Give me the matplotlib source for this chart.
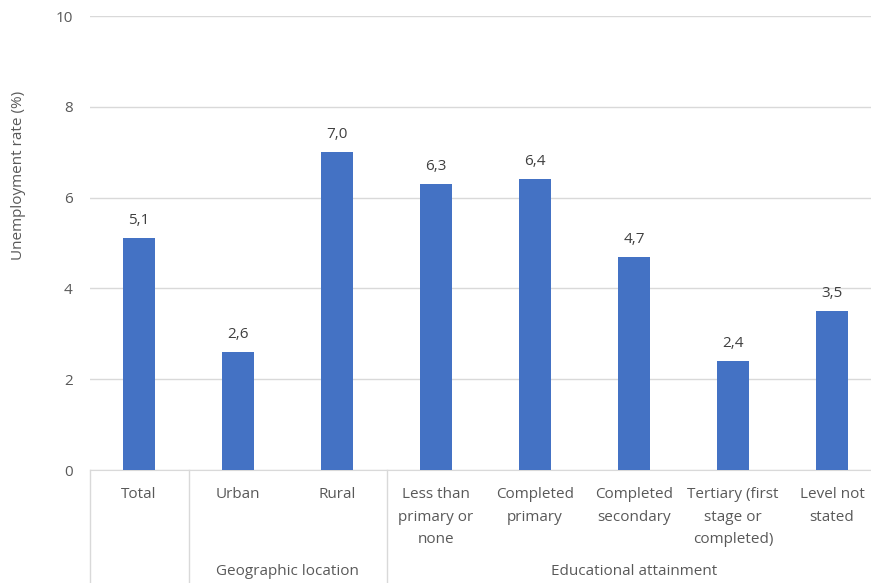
import matplotlib
matplotlib.use('Agg')
import matplotlib.pyplot as plt

categories = ['Total', 'Urban', 'Rural', 'Less than\nprimary or\nnone', 'Completed\nprimary',
              'Completed\nsecondary', 'Tertiary (first\nstage or\ncompleted)', 'Level not\nstated']
rates = [5.1, 2.6, 7.0, 6.3, 6.4, 4.7, 2.4, 3.5]
groups = [('', 0, 0), ('Geographic location', 1, 2), ('Educational attainment', 3, 7)]
yticks = [0, 2, 4, 6, 8, 10]

BAR = '#4472C4'
GRID = '#d9d9d9'
TXT = '#595959'

plt.rcParams['font.family'] = ['Open Sans', 'DejaVu Sans']

W, H = 871, 583
fig = plt.figure(figsize=(W / 100, H / 100), dpi=100)
x0, x1, ytop, ybot = 89.5, 881.5, 16, 470
ax = fig.add_axes([x0 / W, (H - ybot) / H, (x1 - x0) / W, (ybot - ytop) / H])

x = list(range(len(categories)))
ax.bar(x, rates, width=0.32, color=BAR, zorder=3)
for xi, v in zip(x, rates):
    ax.text(xi, v + 0.22, f'{v:.1f}'.replace('.', ','), ha='center', va='bottom',
            fontsize=11, color='#404040')

ax.set_xlim(-0.5, len(categories) - 0.5)
ax.set_ylim(0, 10)
ax.set_yticks(yticks)
ax.set_yticklabels([str(t) for t in yticks], fontsize=11, color=TXT)
ax.tick_params(axis='y', length=0, pad=12)
ax.tick_params(axis='x', length=0)
ax.set_xticks([])
ax.grid(axis='y', color=GRID, lw=1, zorder=0)
for s in ['top', 'right', 'left']:
    ax.spines[s].set_visible(False)
ax.spines['bottom'].set_color(GRID)

# category labels and group separators below the axis
trans = ax.get_xaxis_transform()
for xi, lab in zip(x, categories):
    ax.text(xi, -0.038, lab, transform=trans, ha='center', va='top', fontsize=11,
            color=TXT, linespacing=1.68)
seps = [-0.5] + [end + 0.5 for _, _, end in groups]
for s in seps:
    ax.plot([s, s], [0, -0.26], transform=trans, color=GRID, lw=1, clip_on=False)
for name, start, end in groups:
    if name:
        ax.text((start + end) / 2, -0.223, name, transform=trans, ha='center', va='center',
                fontsize=11, color=TXT)

fig.text(18 / W, (H - 175) / H, 'Unemployment rate (%)', rotation=90, ha='center',
         va='center', fontsize=11, color=TXT)

fig.savefig('out.png', dpi=100)
